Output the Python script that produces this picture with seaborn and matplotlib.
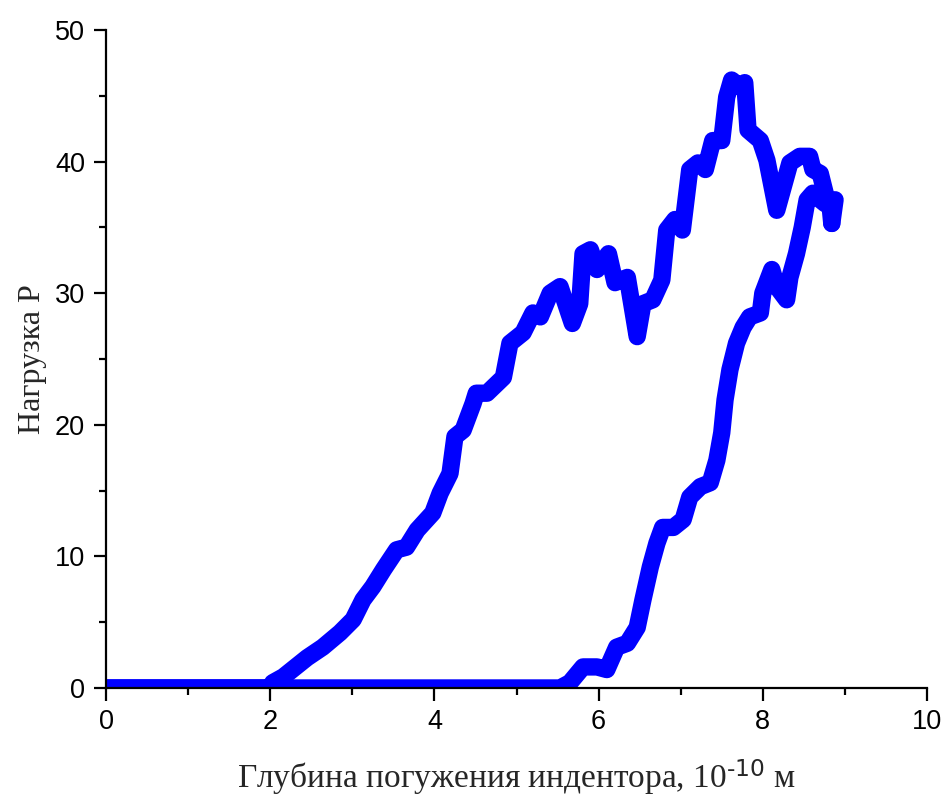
import numpy as np
import pandas as pd
import matplotlib
matplotlib.use("Agg")
import matplotlib.pyplot as plt
import seaborn as sns
from matplotlib.ticker import MultipleLocator

# Loading branch (depth, 1e-10 m ; load P)
load_x = [0.0, 2.0, 2.03, 2.16, 2.45, 2.64, 2.85, 3.01, 3.13, 3.25, 3.38, 3.54, 3.66, 3.79,
          3.98, 4.07, 4.19, 4.25, 4.35, 4.47, 4.51, 4.64, 4.84, 4.92, 5.08, 5.20, 5.29,
          5.41, 5.53, 5.68, 5.77, 5.81, 5.90, 5.98, 6.12, 6.20, 6.35, 6.47, 6.54, 6.66,
          6.77, 6.83, 6.93, 7.02, 7.11, 7.21, 7.30, 7.39, 7.50, 7.56, 7.62, 7.72, 7.78,
          7.82, 7.97, 8.05, 8.17, 8.25, 8.33, 8.45, 8.57, 8.61, 8.70, 8.76, 8.82, 8.84]
load_y = [0.0, 0.0, 0.4, 0.85, 2.3, 3.1, 4.2, 5.2, 6.7, 7.7, 9.0, 10.5, 10.7, 12.0,
          13.3, 14.8, 16.3, 19.1, 19.6, 21.6, 22.4, 22.4, 23.6, 26.2, 27.0, 28.5, 28.2,
          30.0, 30.5, 27.7, 29.2, 33.0, 33.3, 31.8, 33.0, 30.8, 31.2, 26.7, 29.2, 29.5,
          31.0, 34.8, 35.6, 34.8, 39.4, 39.9, 39.4, 41.6, 41.6, 44.9, 46.2, 45.7, 46.0,
          42.4, 41.6, 40.1, 36.3, 38.1, 39.9, 40.4, 40.4, 39.4, 39.1, 37.6, 36.6, 35.3]

# Unloading branch
unload_x = [8.84, 8.88, 8.76, 8.66, 8.61, 8.54, 8.48, 8.41, 8.33, 8.29, 8.17, 8.11, 8.00,
            7.97, 7.84, 7.76, 7.68, 7.60, 7.54, 7.50, 7.44, 7.36, 7.24, 7.11, 7.03, 6.91,
            6.78, 6.71, 6.63, 6.54, 6.47, 6.35, 6.22, 6.10, 5.98, 5.81, 5.65, 5.53, 0.0]
unload_y = [35.3, 37.1, 36.8, 37.3, 37.6, 37.1, 35.0, 33.0, 31.2, 29.5, 30.5, 31.8, 30.0,
            28.5, 28.2, 27.4, 26.2, 24.2, 21.9, 19.4, 17.3, 15.6, 15.3, 14.5, 12.8, 12.2,
            12.2, 11.0, 9.2, 6.7, 4.6, 3.4, 3.1, 1.4, 1.6, 1.6, 0.4, 0.0, 0.0]

x_label = r"Глубина погужения индентора, 10$^{\text{-10}}$ м"
y_label = "Нагрузка P"

sns.set_theme(style="ticks")
plt.rcParams["font.family"] = ["Liberation Sans", "DejaVu Sans"]
plt.rcParams["mathtext.default"] = "regular"

fig = plt.figure(figsize=(9.44, 7.96), dpi=100)
ax = fig.add_axes([0.1123, 0.1357, 0.8697, 0.8266])

lw = 12.5
blue = "#0000FF"
sns.lineplot(x=load_x, y=load_y, sort=False, ax=ax, color=blue, linewidth=lw,
             solid_capstyle="round", solid_joinstyle="round", estimator=None)
sns.lineplot(x=unload_x, y=unload_y, sort=False, ax=ax, color=blue, linewidth=lw,
             solid_capstyle="round", solid_joinstyle="round", estimator=None)

ax.set_xlim(0, 10)
ax.set_ylim(0, 50)
ax.xaxis.set_major_locator(MultipleLocator(2))
ax.xaxis.set_minor_locator(MultipleLocator(1))
ax.yaxis.set_major_locator(MultipleLocator(10))
ax.yaxis.set_minor_locator(MultipleLocator(5))

for s in ["top", "right"]:
    ax.spines[s].set_visible(False)
for s in ["left", "bottom"]:
    ax.spines[s].set_linewidth(1.6)
    ax.spines[s].set_color("black")

ax.tick_params(which="major", direction="out", length=9, width=1.6, labelsize=19.5,
               colors="black", pad=6)
ax.tick_params(which="minor", direction="out", length=5, width=1.6, colors="black")

serif = ["Liberation Serif", "DejaVu Serif"]
ax.set_xlabel(x_label, fontsize=24, family=serif, labelpad=16)
ax.set_ylabel(y_label, fontsize=23, family=serif, labelpad=6)

fig.savefig("out.png", dpi=100, facecolor="white")
